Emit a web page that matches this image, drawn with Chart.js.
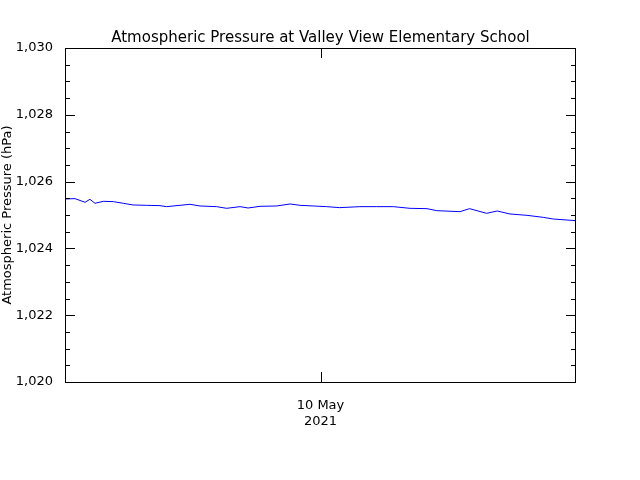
<!DOCTYPE html>
<html><head><meta charset="utf-8">
<script src="https://cdn.jsdelivr.net/npm/chart.js@4/dist/chart.umd.min.js"></script>
<style>body{margin:0;background:#fff}#wrap{width:640px;height:480px}</style>
</head><body><div id="wrap"><canvas id="c" width="640" height="480"></canvas></div>
<script>
// hours after 9 May 12:00
const hours = [0,0.47,0.94,1.17,1.41,1.8,2.27,2.74,3.2,3.84,4.46,4.77,5.4,5.87,6.34,7.12,7.59,8.22,8.6,9.16,9.94,10.57,11.04,11.66,12.29,12.9,13.85,14.64,15.42,16.2,17.0,17.46,18.55,19.0,19.8,20.3,20.9,21.7,22.46,22.93,24];
const pressure = [1025.48,1025.49,1025.38,1025.47,1025.35,1025.41,1025.40,1025.35,1025.30,1025.29,1025.28,1025.25,1025.29,1025.32,1025.27,1025.25,1025.20,1025.25,1025.21,1025.26,1025.27,1025.33,1025.29,1025.27,1025.25,1025.22,1025.25,1025.25,1025.25,1025.20,1025.19,1025.13,1025.10,1025.19,1025.05,1025.12,1025.03,1024.99,1024.93,1024.88,1024.83];
const xTicks = [12];
const xTickLabels = [["10 May","2021"]];
const yTicks = [1020,1022,1024,1026,1028,1030];

const F = "'DejaVu Sans', sans-serif";
const frame = {
  id: 'frame',
  afterDraw(ch) {
    const {ctx, chartArea: a, scales: {x, y}} = ch;
    ctx.save();
    ctx.strokeStyle = '#000'; ctx.lineWidth = 1;
    ctx.strokeRect(a.left + 0.5, a.top + 0.5, a.right - a.left - 1, a.bottom - a.top);
    ctx.beginPath();
    for (let v = 1020; v <= 1030; v += 0.5) {
      const py = Math.round(y.getPixelForValue(v)) + 0.5;
      const len = (Math.abs(v % 2) < 1e-6) ? 10 : 5;
      ctx.moveTo(a.left, py); ctx.lineTo(a.left + len, py);
      ctx.moveTo(a.right, py); ctx.lineTo(a.right - len, py);
    }
    xTicks.forEach(t => {
      const px = Math.round(x.getPixelForValue(t)) + 0.5;
      ctx.moveTo(px, a.bottom); ctx.lineTo(px, a.bottom - 10);
      ctx.moveTo(px, a.top); ctx.lineTo(px, a.top + 10);
    });
    ctx.stroke();
    ctx.fillStyle = '#000';
    ctx.font = '15px ' + F;
    ctx.textAlign = 'center';
    ctx.fillText('Atmospheric Pressure at Valley View Elementary School', (a.left + a.right) / 2, 42);
    ctx.restore();
  }
};

new Chart(document.getElementById('c'), {
  type: 'line',
  data: { datasets: [{ data: hours.map((h, i) => ({x: h, y: pressure[i]})), borderColor: '#0000ff', borderWidth: 1, pointRadius: 0, tension: 0 }] },
  options: {
    responsive: false, animation: false,
    layout: { padding: { top: 48, right: 64, left: 0, bottom: 0 } },
    plugins: { legend: { display: false }, tooltip: { enabled: false } },
    scales: {
      x: {
        type: 'linear', min: 0, max: 24,
        grid: { display: false }, border: { display: false },
        afterBuildTicks: s => { s.ticks = xTicks.map(v => ({value: v})); },
        afterFit: s => { s.height = 98; },
        ticks: { color: '#000', font: { family: F, size: 13 }, padding: 8, maxRotation: 0,
          callback: (v) => xTickLabels[xTicks.indexOf(v)] }
      },
      y: {
        min: 1020, max: 1030,
        grid: { display: false }, border: { display: false },
        afterBuildTicks: s => { s.ticks = yTicks.map(v => ({value: v})); },
        afterFit: s => { s.width = 65; },
        ticks: { color: '#000', font: { family: F, size: 13 }, padding: 4 },
        title: { display: true, text: 'Atmospheric Pressure (hPa)', color: '#000', font: { family: F, size: 13 }, padding: 0 }
      }
    }
  },
  plugins: [frame]
});
</script></body></html>
